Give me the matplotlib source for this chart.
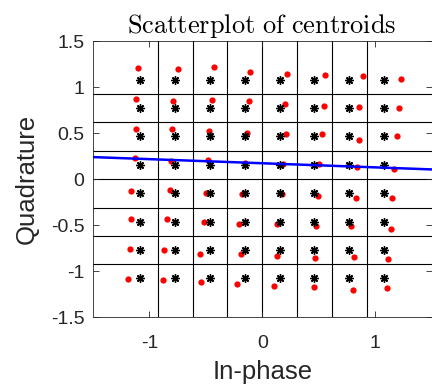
import matplotlib
matplotlib.use('Agg')
import matplotlib.pyplot as plt

# 64-QAM reference levels and decision boundaries
levels = [-1.080, -0.772, -0.463, -0.154, 0.154, 0.463, 0.772, 1.080]
bounds = [-0.926, -0.617, -0.309, 0.0, 0.309, 0.617, 0.926]

# estimated centroids, one row per quadrature level (top to bottom)
cent_i = [
    [-1.102, -0.748, -0.429, -0.104, 0.223, 0.556, 0.892, 1.226],
    [-1.122, -0.786, -0.447, -0.119, 0.199, 0.547, 0.860, 1.214],
    [-1.119, -0.801, -0.471, -0.131, 0.211, 0.527, 0.860, 1.190],
    [-1.131, -0.812, -0.476, -0.152, 0.181, 0.500, 0.842, 1.170],
    [-1.158, -0.816, -0.497, -0.179, 0.173, 0.491, 0.834, 1.152],
    [-1.158, -0.845, -0.518, -0.202, 0.131, 0.473, 0.783, 1.137],
    [-1.167, -0.866, -0.550, -0.184, 0.134, 0.471, 0.812, 1.113],
    [-1.193, -0.881, -0.541, -0.219, 0.108, 0.462, 0.804, 1.102],
]
cent_q = [
    [1.203, 1.199, 1.217, 1.160, 1.145, 1.130, 1.123, 1.083],
    [0.870, 0.848, 0.855, 0.844, 0.819, 0.797, 0.786, 0.772],
    [0.543, 0.543, 0.525, 0.503, 0.486, 0.493, 0.428, 0.467],
    [0.228, 0.196, 0.203, 0.177, 0.167, 0.160, 0.134, 0.112],
    [-0.130, -0.123, -0.149, -0.163, -0.159, -0.185, -0.210, -0.207],
    [-0.431, -0.435, -0.467, -0.486, -0.493, -0.515, -0.515, -0.547],
    [-0.764, -0.775, -0.815, -0.818, -0.833, -0.855, -0.851, -0.866],
    [-1.083, -1.101, -1.123, -1.145, -1.167, -1.177, -1.203, -1.188],
]

# fitted line (blue)
fit_x = [-1.5, 1.5]
fit_y = [0.239, 0.105]

xticks = [-1, 0, 1]
yticks = [-1.5, -1, -0.5, 0, 0.5, 1, 1.5]

plt.rcParams['font.family'] = ['Liberation Sans', 'DejaVu Sans']
plt.rcParams['mathtext.fontset'] = 'cm'

fig = plt.figure(figsize=(4.32, 3.91), dpi=100)
ax = fig.add_axes([0.215, 0.189, 0.784, 0.706])

for b in bounds:
    ax.axvline(b, color='black', lw=0.8, zorder=1)
    ax.axhline(b, color='black', lw=0.8, zorder=1)

ref_i = [i for q in levels for i in levels]
ref_q = [q for q in levels for i in levels]
ci = [v for row in cent_i for v in row]
cq = [v for row in cent_q for v in row]

ax.plot(ci, cq, 'o', color='red', ms=4.5, mec='none', zorder=2)
ax.plot(ref_i, ref_q, ls='none', marker=(8, 2, 0), color='black', ms=6,
        mew=1.0, zorder=3)
ax.plot(fit_x, fit_y, color='blue', lw=1.8, zorder=4)

ax.set_xlim(-1.5, 1.5)
ax.set_ylim(-1.5, 1.5)
ax.set_xticks(xticks)
ax.set_yticks(yticks)
ax.set_xticklabels(['%g' % v for v in xticks])
ax.set_yticklabels(['%g' % v for v in yticks])
ax.tick_params(direction='in', top=True, right=True, length=4,
               width=0.6, labelsize=14, colors='#262626')
ax.tick_params(axis='x', pad=13)
ax.tick_params(axis='y', pad=6)
for s in ax.spines.values():
    s.set_color('#262626')
    s.set_linewidth(0.6)

ax.set_xlabel('In-phase', fontsize=18.5, color='#262626', labelpad=6)
ax.set_ylabel('Quadrature', fontsize=18.5, color='#262626', labelpad=9)
ax.set_title(r'$\mathrm{Scatterplot\ of\ centroids}$', fontsize=19,
             color='black', pad=6)

fig.savefig('out.png', dpi=100)
